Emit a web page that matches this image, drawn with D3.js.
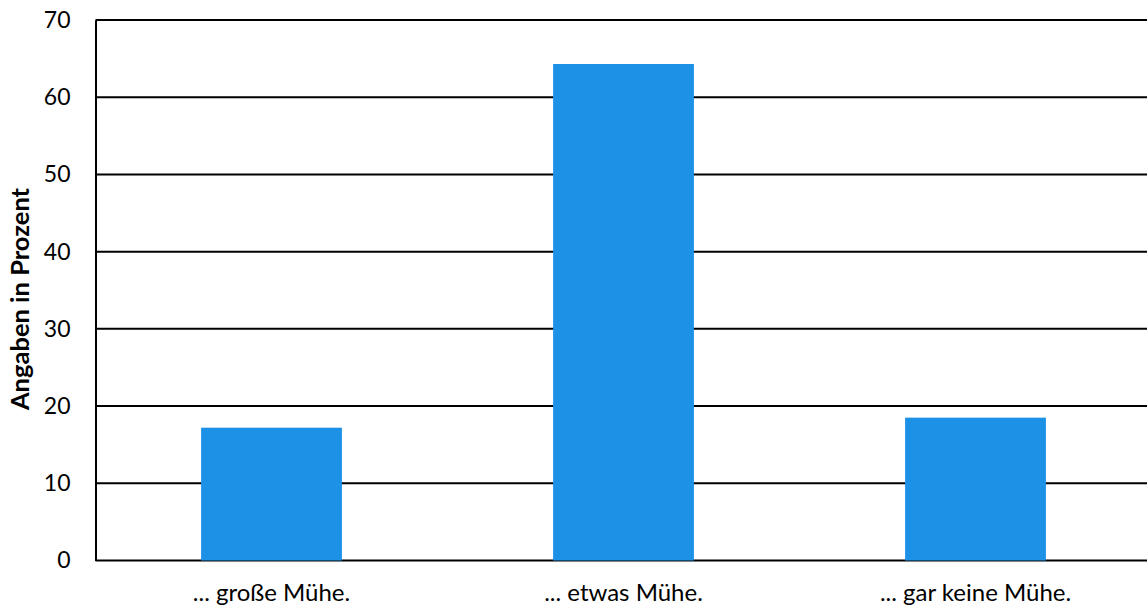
<!DOCTYPE html>
<html><head><meta charset="utf-8">
<script src="https://cdn.jsdelivr.net/npm/d3@7"></script>
<style>body{margin:0;background:#fff}svg{display:block}</style>
</head><body>
<script>
const categories = ["... große Mühe.", "... etwas Mühe.", "... gar keine Mühe."];
const values = [17.2, 64.3, 18.5];
const yTicks = [0, 10, 20, 30, 40, 50, 60, 70];
const yLabel = "Angaben in Prozent";

const W = 1147, H = 609;
const m = {left: 95.5, right: -4.5, top: 20, bottom: 48};
const svg = d3.select("body").append("svg").attr("width", W).attr("height", H);
const x = d3.scaleBand().domain(categories).range([m.left, W - m.right]).paddingInner(0.6).paddingOuter(0.3);
const y = d3.scaleLinear().domain([0, 70]).range([H - m.bottom - 0.5, m.top]);
const font = "Lato, 'Open Sans', sans-serif";

// gridlines
svg.append("g").selectAll("line").data(yTicks).join("line")
  .attr("x1", m.left).attr("x2", W).attr("y1", d => y(d)).attr("y2", d => y(d))
  .attr("stroke", "#000").attr("stroke-width", 2);

// bars
svg.append("g").selectAll("rect").data(values).join("rect")
  .attr("x", (d, i) => x(categories[i])).attr("width", x.bandwidth())
  .attr("y", d => y(d)).attr("height", d => y(0) - y(d))
  .attr("fill", "#1c91e6");

// y axis
const ya = svg.append("g").attr("transform", `translate(${m.left},0)`)
  .call(d3.axisLeft(y).tickValues(yTicks).tickSize(0).tickPadding(25));
ya.select(".domain").attr("stroke", "#000").attr("stroke-width", 2);
ya.selectAll("text").attr("font-family", font).attr("font-size", 23).attr("fill", "#000");

// x axis
const xa = svg.append("g").attr("transform", `translate(0,${y(0)})`)
  .call(d3.axisBottom(x).tickSize(0).tickPadding(23));
xa.select(".domain").remove();
xa.selectAll("text").attr("font-family", font).attr("font-size", 24).attr("fill", "#000");

// y label
svg.append("text").attr("transform", `translate(29,299) rotate(-90)`)
  .attr("text-anchor", "middle").attr("font-family", font).attr("font-weight", "bold")
  .attr("font-size", 25.5).text(yLabel);
</script>
</body></html>
